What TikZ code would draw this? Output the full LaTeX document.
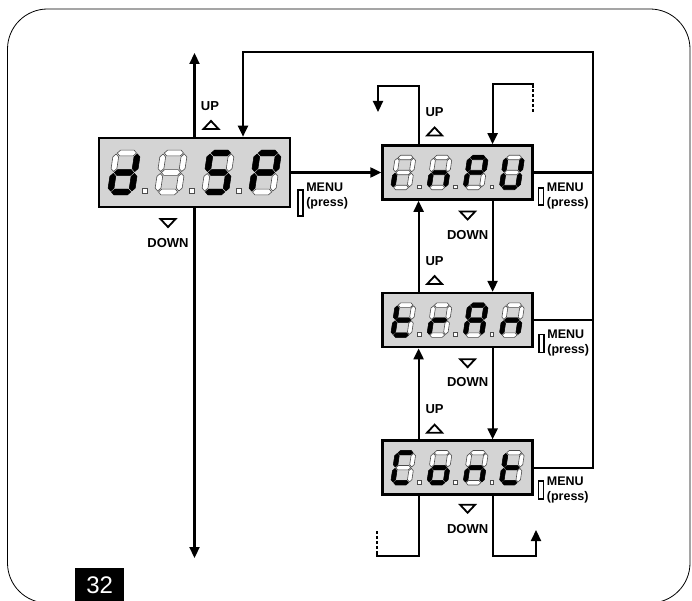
\documentclass[tikz,border=0pt]{standalone}
\usepackage{fontspec}
\setmainfont{Liberation Sans}
\usetikzlibrary{positioning, arrows.meta, calc, shapes.geometric}

% one segment of a seven segment digit: style, from, to, position
\newcommand{\hseg}[4]{\filldraw[#1] (#2,#4) -- (#2+2.9,#4-2.9) -- (#3-2.9,#4-2.9) -- (#3,#4) -- (#3-2.9,#4+2.9) -- (#2+2.9,#4+2.9) -- cycle;}
\newcommand{\vseg}[4]{\filldraw[#1] (#2,#3) -- (#2+2.9,#3+2.9) -- (#2+2.9,#4-2.9) -- (#2,#4) -- (#2-2.9,#4-2.9) -- (#2-2.9,#3+2.9) -- cycle;}
\def\sega#1{\hseg{#1}{-9.6}{9.6}{-19.5}}
\def\segb#1{\vseg{#1}{10.6}{-18.5}{-1}}
\def\segc#1{\vseg{#1}{10.6}{1}{18.5}}
\def\segd#1{\hseg{#1}{-9.6}{9.6}{19.5}}
\def\sege#1{\vseg{#1}{-10.6}{1}{18.5}}
\def\segf#1{\vseg{#1}{-10.6}{-18.5}{-1}}
\def\segg#1{\hseg{#1}{-9.6}{9.6}{0}}
\def\segx#1{}

% all segments off, then the listed ones on
\newcommand{\sevenseg}[1]{%
  \foreach \s in {a,b,c,d,e,f,g} {\csname seg\s\endcsname{seg_off}}%
  \foreach \s in #1 {\csname seg\s\endcsname{seg_on}}}

% four digits in a display node: node, scale, segments of each digit
\newcommand{\readout}[6]{%
  \foreach \segs [count=\k] in {{#3},{#4},{#5},{#6}} {%
    \begin{scope}[shift={(#1.center)}, scale=#2, xshift={(\k-2.5)*47}]
      \begin{scope}[xslant=0.15]
        \sevenseg{\segs}
      \end{scope}
      \ifnum\k<4 \filldraw[seg_off] (18.5,16) rectangle ++(5,5); \fi
    \end{scope}}}

\begin{document}
\begin{tikzpicture}[
    x=1pt, y=-1pt,
    display/.style={rectangle, draw, line width=2.6pt, fill=black!17},
    small_display/.style={display, minimum width=150pt, minimum height=54pt},
    line/.style={line width=2.2pt},
    arrow/.style={line, -{Triangle[length=11pt, width=10pt]}},
    double_arrow/.style={line, {Triangle[length=11pt, width=10pt]}-{Triangle[length=11pt, width=10pt]}},
    dashed_line/.style={line, dash pattern=on 3pt off 2pt},
    seg_on/.style={fill=black, draw=black, line width=0.4pt},
    seg_off/.style={fill=white, draw=black!70, line width=0.6pt},
    up_tri/.style={isosceles triangle, isosceles triangle stretches, shape border rotate=90, draw, line width=1.8pt, fill=white, inner sep=0pt, minimum width=15pt, minimum height=8pt},
    down_tri/.style={up_tri, shape border rotate=270},
    key/.style={font=\bfseries\fontsize{13}{14}\selectfont, inner sep=0pt},
    button/.style={rectangle, draw, line width=1.6pt, fill=white, inner sep=0pt, minimum width=5pt},
    menu/.style={font=\bfseries\fontsize{12.5}{15}\selectfont, align=left, inner sep=0pt},
]
\useasboundingbox (0,0) rectangle (692,601);
\clip (0,0) rectangle (692,601);

%% FRAME
    \draw[line width=0.8pt, rounded corners=40pt] (7.5,9) rectangle (690,603);
    \node[fill=black, text=white, font=\fontsize{24}{24}\selectfont, minimum width=49pt, minimum height=34pt, inner sep=0pt, anchor=south west] (fig_num) at (75,602) {32};

%% COORDINATES
    \coordinate (axis_top) at (194.5,53);
    \coordinate (axis_bot) at (194.5,558);
    \coordinate (rail) at (593,52);
    \coordinate (entry) at (243,52);

    % up/down axis behind the first display
    \draw[double_arrow] (axis_top) -- (axis_bot);

%% NODES
    % displays
    \node[display, minimum width=191pt, minimum height=69pt] (disp) at (194.5,172.5) {};
    \node[small_display, right=90pt of disp] (inpu) {};
    \node[small_display, below=91pt of inpu] (tran) {};
    \node[small_display, below=91pt of tran] (cont) {};

    \coordinate (up_x) at ($(inpu.center)+(-39,0)$);
    \coordinate (down_x) at ($(inpu.center)+(35,0)$);
    \coordinate (inpu_out) at (378,112);
    \coordinate (inpu_in) at (533,112);
    \coordinate (cont_in) at (377,530);
    \coordinate (cont_out) at (536,530);

    % digits
    \readout{disp}{1}{b,c,d,e,g}{x}{a,f,g,c,d}{a,b,f,g,e}
    \readout{inpu}{0.77}{e}{c,e,g}{a,b,f,g,e}{b,c,d,e,f}
    \readout{tran}{0.77}{f,e,d,g}{e,g}{a,b,c,e,f,g}{c,e,g}
    \readout{cont}{0.77}{a,f,e,d}{c,d,e,g}{c,e,g}{d,e,f,g}

    % keys
    \node[up_tri] (disp_up_tri) at ($(disp.north)+(16.5,-11)$) {};
    \node[key] (disp_up) at ($(disp.north)+(15.5,-31)$) {UP};
    \node[down_tri] (disp_down_tri) at ($(disp.south)+(-26.5,14)$) {};
    \node[key] (disp_down) at ($(disp.south)+(-26.5,35)$) {DOWN};
    \node[button, minimum height=26pt] (disp_btn) at ($(disp.south east)+(9,-5.5)$) {};
    \node[menu, right=2.5pt of disp_btn, yshift=7pt] (disp_menu) {MENU\\(press)};

    \node[up_tri] (inpu_up_tri) at ($(inpu.north)+(-23,-12)$) {};
    \node[key] (inpu_up) at ($(inpu.north)+(-23,-32)$) {UP};
    \node[down_tri] (inpu_down_tri) at ($(inpu.south)+(10,14)$) {};
    \node[key] (inpu_down) at ($(inpu.south)+(10,34)$) {DOWN};
    \node[button, minimum height=17pt] (inpu_btn) at ($(inpu.south east)+(7,-4)$) {};
    \node[menu, right=2.5pt of inpu_btn, yshift=1pt] (inpu_menu) {MENU\\(press)};

    \node[up_tri] (tran_up_tri) at ($(tran.north)+(-23,-11)$) {};
    \node[key] (tran_up) at ($(tran.north)+(-23,-31)$) {UP};
    \node[down_tri] (tran_down_tri) at ($(tran.south)+(10,14)$) {};
    \node[key] (tran_down) at ($(tran.south)+(10,34)$) {DOWN};
    \node[button, minimum height=18pt] (tran_btn) at ($(tran.south east)+(7.5,-5)$) {};
    \node[menu, right=2.5pt of tran_btn] (tran_menu) {MENU\\(press)};

    \node[up_tri] (cont_up_tri) at ($(cont.north)+(-23,-10)$) {};
    \node[key] (cont_up) at ($(cont.north)+(-23,-30)$) {UP};
    \node[down_tri] (cont_down_tri) at ($(cont.south)+(10,12)$) {};
    \node[key] (cont_down) at ($(cont.south)+(10,33)$) {DOWN};
    \node[button, minimum height=18pt] (cont_btn) at ($(cont.south east)+(7,-6)$) {};
    \node[menu, right=2.5pt of cont_btn] (cont_menu) {MENU\\(press)};

%% CONNECTORS
    \draw[arrow] (disp.east) -- (inpu.west);
    \draw[line] (inpu.east) -- (inpu.east -| rail);
    \draw[line] (tran.east) -- (tran.east -| rail);
    \draw[arrow] (cont.east) -| (rail) -| (disp.north -| entry);

    \draw[arrow] (inpu.south -| down_x) -- (tran.north -| down_x);
    \draw[arrow] (tran.south -| down_x) -- (cont.north -| down_x);
    \draw[arrow] (tran.north -| up_x) -- (inpu.south -| up_x);
    \draw[arrow] (cont.north -| up_x) -- (tran.south -| up_x);

    % wrap round at the ends of the list
    \draw[arrow] (inpu.north -| up_x) |- ($(inpu_out)+(0,-26)$) -- (inpu_out);
    \draw[dashed_line] (inpu_in) -- ++(0,-24);
    \draw[arrow] ($(inpu_in)+(0,-24)$) |- ($(inpu.north -| down_x)+(0,-60)$) -- (inpu.north -| down_x);
    \draw[line] (cont.south -| up_x) |- ($(cont_in)+(0,26)$) -- ++(0,-2);
    \draw[dashed_line] ($(cont_in)+(0,24)$) -- (cont_in);
    \draw[arrow] (cont.south -| down_x) |- ($(cont_out)+(0,26)$) -- (cont_out);

\end{tikzpicture}
\end{document}
